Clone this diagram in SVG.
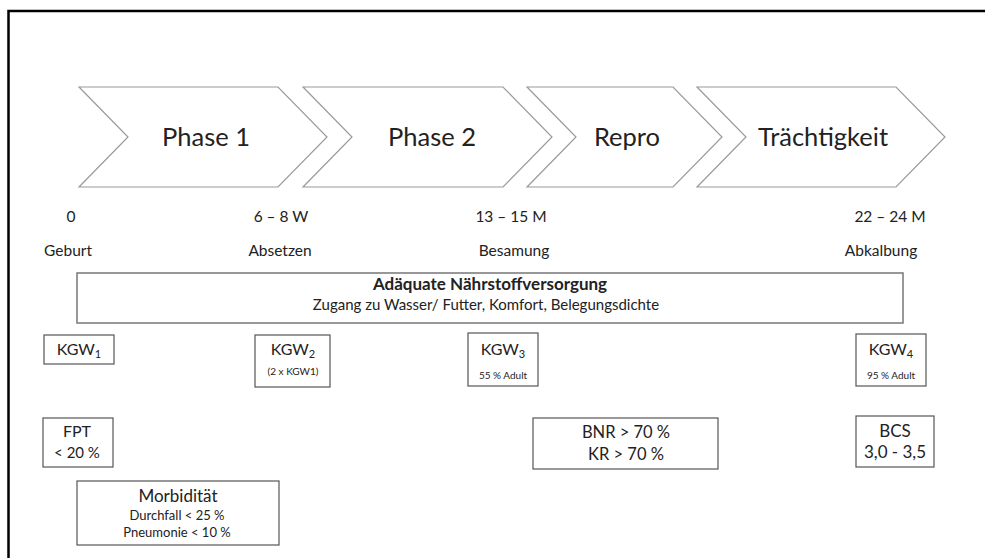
<svg xmlns="http://www.w3.org/2000/svg" width="985" height="558" viewBox="0 0 985 558">
<style>
text{font-family:Lato,"Open Sans","Liberation Sans",sans-serif;fill:#222;text-anchor:middle}
.chev{fill:#fff;stroke:#9a9a9a;stroke-width:1.2}
.box{fill:#fff;stroke:#555;stroke-width:1.2}
.big{fill:#fff;stroke:#777;stroke-width:1.5}
.lbl{font-size:25.5px}
.tl{font-size:15.5px}
.m{font-size:16px}
.l{font-size:17px}
.s{font-size:13px}
.xs{font-size:10px}
</style>
<rect x="0" y="0" width="985" height="558" fill="#fff"/>
<path d="M8.5 558 V11 H985" fill="none" stroke="#000" stroke-width="2.5"/>
<g id="phase1"><polygon class="chev" points="79,87 278,87 327,137 278,187 79,187 128,137"/><text class="lbl" x="206" y="146">Phase 1</text></g>
<g id="phase2"><polygon class="chev" points="303,87 503,87 552,137 503,187 303,187 352,137"/><text class="lbl" x="432" y="146">Phase 2</text></g>
<g id="repro"><polygon class="chev" points="527,87 673,87 722,137 673,187 527,187 576,137"/><text class="lbl" x="627" y="146">Repro</text></g>
<g id="traechtigkeit"><polygon class="chev" points="697,87 896,87 945,137 896,187 697,187 746,137"/><text class="lbl" x="823" y="146">Trächtigkeit</text></g>
<g id="t0"><text class="tl" x="71" y="222">0</text><text class="tl" x="68" y="256">Geburt</text></g>
<g id="t1"><text class="tl" x="281" y="222">6 – 8 W</text><text class="tl" x="280" y="256">Absetzen</text></g>
<g id="t2"><text class="tl" x="511" y="222">13 – 15 M</text><text class="tl" x="514" y="256">Besamung</text></g>
<g id="t3"><text class="tl" x="890" y="222">22 – 24 M</text><text class="tl" x="881" y="256">Abkalbung</text></g>
<g id="naehrstoff"><rect class="big" x="77" y="273" width="826" height="50"/><text x="490" y="290" font-size="17" font-weight="bold">Adäquate Nährstoffversorgung</text><text x="486" y="310" font-size="15">Zugang zu Wasser/ Futter, Komfort, Belegungsdichte</text></g>
<g id="kgw1"><rect class="box" x="44" y="335" width="70" height="29"/><text class="m" x="79" y="355">KGW<tspan font-size="11" dy="3">1</tspan></text></g>
<g id="kgw2"><rect class="box" x="255" y="335" width="75" height="52"/><text class="m" x="293" y="355">KGW<tspan font-size="11" dy="3">2</tspan></text><text class="xs" x="293" y="378" dy="-3">(2 x KGW1)</text></g>
<g id="kgw3"><rect class="box" x="468" y="333" width="70" height="53"/><text class="m" x="503" y="355">KGW<tspan font-size="11" dy="3">3</tspan></text><text class="xs" x="503" y="379">55 % Adult</text></g>
<g id="kgw4"><rect class="box" x="856" y="334" width="70" height="52"/><text class="m" x="891" y="355">KGW<tspan font-size="11" dy="3">4</tspan></text><text class="xs" x="891" y="379">95 % Adult</text></g>
<g id="fpt"><rect class="box" x="43" y="418" width="70" height="49"/><text class="m" x="77" y="437">FPT</text><text x="77" y="458" font-size="15">&lt; 20 %</text></g>
<g id="morbiditaet"><rect class="box" x="77" y="481" width="202" height="64"/><text class="l" x="178" y="502">Morbidität</text><text class="s" x="177" y="520">Durchfall &lt; 25 %</text><text class="s" x="177" y="537">Pneumonie &lt; 10 %</text></g>
<g id="bnr"><rect class="box" x="533" y="418" width="185" height="51"/><text x="626" y="438" font-size="16.5">BNR &gt; 70 %</text><text x="626" y="460" font-size="16.5">KR &gt; 70 %</text></g>
<g id="bcs"><rect class="box" x="856" y="416" width="78" height="51"/><text class="l" x="895" y="437">BCS</text><text class="l" x="895" y="458">3,0 - 3,5</text></g>
<g id="connectors"></g>
</svg>
